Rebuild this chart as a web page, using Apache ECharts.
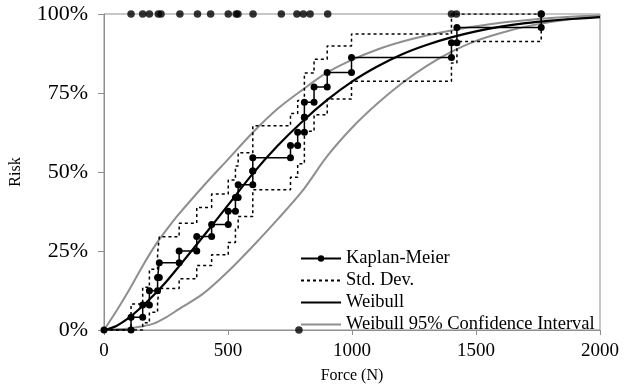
<!DOCTYPE html>
<html>
<head>
<meta charset="utf-8">
<script src="https://cdn.jsdelivr.net/npm/echarts@6/dist/echarts.min.js"></script>
<style>
  html, body { margin: 0; padding: 0; background: #fff; }
  #chart { width: 626px; height: 389px; }
</style>
</head>
<body>
<div id="chart"></div>
<script>
// Kaplan-Meier 事件点 (Force N) 与累计风险 (%)
const eventForce = [109, 156, 183, 216, 223, 303, 374, 434, 501, 530, 541, 600, 600, 752, 781, 808, 808, 847, 900, 998, 1401, 1423, 1763]
const kmRisk = [4.0, 7.9, 12.4, 16.6, 21.3, 25.0, 29.6, 33.4, 37.6, 41.9, 46.0, 50.3, 54.5, 58.4, 62.6, 67.3, 72.1, 76.9, 81.5, 86.2, 90.9, 95.7, 100]
// 标准差上下界
const sdUpper = [8.2, 13.5, 19.2, 24.2, 29.5, 33.8, 38.8, 43.0, 47.5, 51.9, 56.1, 60.5, 64.6, 68.5, 72.6, 77.0, 81.3, 85.7, 89.9, 93.7, 100, 100, 100]
const sdLower = [0, 2.3, 5.6, 9.0, 13.1, 16.2, 20.4, 23.8, 27.7, 31.9, 35.9, 40.1, 44.4, 48.3, 52.6, 57.6, 62.9, 68.1, 73.1, 78.7, 84.5, 91.3, 100]

// 数据点 (100% 一行) 与 0% 的一个点
const topForce = [109, 156, 183, 219, 230, 306, 377, 430, 501, 533, 540, 601, 715, 778, 804, 831, 902, 1401, 1421, 1763]
const bottomForce = [786]

// Weibull 拟合曲线及95%置信区间
const curveForce = [0, 50, 100, 150, 200, 250, 300, 400, 500, 600, 700, 800, 900, 1000, 1100, 1200, 1300, 1400, 1500, 1600, 1700, 1800, 1900, 2000]
const weibullRisk = [0, 1.3, 3.8, 7.2, 11.0, 15.2, 19.9, 29.6, 39.5, 49.5, 58.3, 66.0, 72.8, 78.6, 83.3, 87.2, 90.2, 92.6, 94.5, 96.0, 97.1, 97.9, 98.5, 99.0]
const ciUpper = [0, 6, 12.5, 19.5, 26, 31.5, 36.5, 45.5, 54, 62.5, 70, 76, 81.5, 85.5, 88.7, 91.2, 93.2, 94.8, 96.1, 97.2, 98, 98.7, 99.2, 99.5]
const ciLower = [0, 0.2, 0.5, 1.1, 2, 4, 6.5, 11.5, 18.5, 26.5, 35, 44, 55, 64, 71.5, 78, 83.5, 88, 91.5, 94, 96, 97.5, 98.5, 99.2]

const xTicks = [0, 500, 1000, 1500, 2000]
const yTicks = [0, 25, 50, 75, 100]

// 阶梯线: 每个事件画水平段+竖直段
const stepLine = (levels) => {
  const pts = [[0, 0]]
  let prev = 0
  eventForce.forEach((f, i) => {
    pts.push([f, prev])
    pts.push([f, levels[i]])
    prev = levels[i]
  })
  return pts
}
const pair = (xs, ys) => xs.map((x, i) => [x, ys[i]])

const serif = 'Liberation Serif'
const grey = '#8f8f8f'
// 图例里只画线, 不画点
const noDot = { opacity: 0 }

const myChart = echarts.init(document.getElementById('chart'))

const option = {
  animation: false,
  backgroundColor: '#fff',
  grid: {
    left: 101,
    right: 26,
    top: 14,
    bottom: 58,
    show: true,
    borderColor: grey,
    borderWidth: 1
  },
  legend: {
    orient: 'vertical',
    left: 295,
    top: 244,
    itemWidth: 40,
    itemHeight: 8,
    itemGap: 3,
    data: [
      { name: 'Kaplan-Meier' },
      { name: 'Std. Dev.', itemStyle: noDot },
      { name: 'Weibull', itemStyle: noDot },
      { name: 'Weibull 95% Confidence Interval', itemStyle: noDot }
    ],
    textStyle: { fontFamily: serif, fontSize: 18.5, color: '#000' }
  },
  xAxis: {
    type: 'value',
    min: xTicks[0],
    max: xTicks[xTicks.length - 1],
    interval: 500,
    name: 'Force (N)',
    nameLocation: 'middle',
    nameGap: 38,
    nameTextStyle: { fontFamily: serif, fontSize: 16, color: '#000' },
    axisLine: { lineStyle: { color: grey } },
    axisTick: { show: true, length: 5, lineStyle: { color: grey } },
    axisLabel: { fontFamily: serif, fontSize: 19, color: '#000', margin: 12, formatter: (v) => String(v) },
    splitLine: { show: false }
  },
  yAxis: {
    type: 'value',
    min: yTicks[0],
    max: yTicks[yTicks.length - 1],
    interval: 25,
    name: 'Risk',
    nameLocation: 'middle',
    nameRotate: 90,
    nameGap: 80,
    nameTextStyle: { fontFamily: serif, fontSize: 16, color: '#000' },
    axisLine: { show: true, lineStyle: { color: grey } },
    axisTick: { show: true, length: 6, lineStyle: { color: grey } },
    axisLabel: { fontFamily: serif, fontSize: 22, color: '#000', margin: 16, formatter: '{value}%' },
    splitLine: { show: false }
  },
  series: [
    {
      name: 'Weibull 95% Confidence Interval',
      type: 'line',
      smooth: 0.3,
      symbol: 'none',
      data: pair(curveForce, ciUpper),
      lineStyle: { color: grey, width: 2 },
      itemStyle: { color: grey }
    },
    {
      name: 'Weibull 95% Confidence Interval',
      type: 'line',
      smooth: 0.3,
      symbol: 'none',
      data: pair(curveForce, ciLower),
      lineStyle: { color: grey, width: 2 },
      itemStyle: { color: grey }
    },
    {
      name: 'Std. Dev.',
      type: 'line',
      symbol: 'none',
      data: stepLine(sdUpper),
      lineStyle: { color: '#000', width: 1.5, type: [3, 3] },
      itemStyle: { color: '#000' }
    },
    {
      name: 'Std. Dev.',
      type: 'line',
      symbol: 'none',
      data: stepLine(sdLower),
      lineStyle: { color: '#000', width: 1.5, type: [3, 3] },
      itemStyle: { color: '#000' }
    },
    {
      name: 'Weibull',
      type: 'line',
      smooth: 0.3,
      symbol: 'none',
      data: pair(curveForce, weibullRisk),
      lineStyle: { color: '#000', width: 2.2 },
      itemStyle: { color: '#000' }
    },
    {
      name: 'Kaplan-Meier',
      type: 'line',
      symbol: 'circle',
      symbolSize: 7,
      showAllSymbol: true,
      data: stepLine(kmRisk),
      lineStyle: { color: '#000', width: 1.5 },
      itemStyle: { color: '#000' }
    },
    {
      name: 'points',
      type: 'scatter',
      symbol: 'circle',
      symbolSize: 7.5,
      data: topForce.map((f) => [f, 100]).concat(bottomForce.map((f) => [f, 0])),
      itemStyle: { color: '#000' }
    }
  ]
}

myChart.setOption(option)
window.addEventListener('resize', () => {
  myChart.resize()
})
</script>
</body>
</html>
